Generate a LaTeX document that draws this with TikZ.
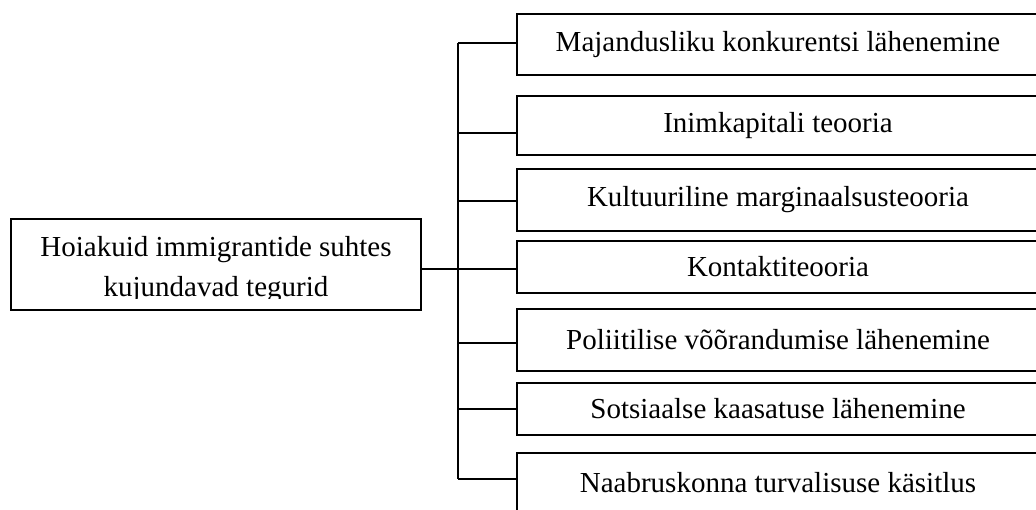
\documentclass[tikz,border=0pt]{standalone}
\usepackage{fontspec}
\setmainfont{Liberation Serif}

\tikzset{
    termbox/.style={draw, line width=1pt, inner sep=0pt, font=\fontsize{14.5}{20}\selectfont},
    factorbox/.style={termbox, anchor=north west, minimum width=261pt, minimum height=#1},
    link/.style={line width=1pt},
}

\begin{document}
\begin{tikzpicture}[x=0.5pt, y=-0.5pt]
    \useasboundingbox (0, 0) rectangle (1036, 509);
    \clip (0, 0) rectangle (1036, 509);

    \begin{scope}
        \clip (11, 219) rectangle (419, 298);
        \node[termbox, draw=none, align=center, anchor=north west, minimum width=204pt, minimum height=44.5pt] at (11, 219) (root) {\rule{0pt}{15pt}Hoiakuid immigrantide suhtes\\kujundavad tegurid};
    \end{scope}
    \draw[link] (root.north west) rectangle (root.south east);

    \node[factorbox=30.5pt] at (516, 13) (f1) {Majandusliku konkurentsi lähenemine};
    \node[factorbox=29.5pt] at (516, 95) (f2) {Inimkapitali teooria};
    \node[factorbox=31pt] at (516, 168) (f3) {Kultuuriline marginaalsusteooria};
    \node[factorbox=26pt] at (516, 240) (f4) {Kontaktiteooria};
    \node[factorbox=31pt] at (516, 308) (f5) {Poliitilise võõrandumise lähenemine};
    \node[factorbox=26pt] at (516, 382) (f6) {Sotsiaalse kaasatuse lähenemine};
    \node[factorbox=30pt] at (516, 452) (f7) {Naabruskonna turvalisuse käsitlus};

    \coordinate (j1) at (458, 43);
    \coordinate (j2) at (458, 133);
    \coordinate (j3) at (458, 201);
    \coordinate (j4) at (458, 269);
    \coordinate (j5) at (458, 343);
    \coordinate (j6) at (458, 409);
    \coordinate (j7) at (458, 479);

    \draw[link] (j4 -| root.east) -- (j4);
    \draw[link] (j1) -- (j7);
    \foreach \i in {1,...,7}
        \draw[link] (j\i) -- (j\i -| f\i.west);
\end{tikzpicture}
\end{document}
